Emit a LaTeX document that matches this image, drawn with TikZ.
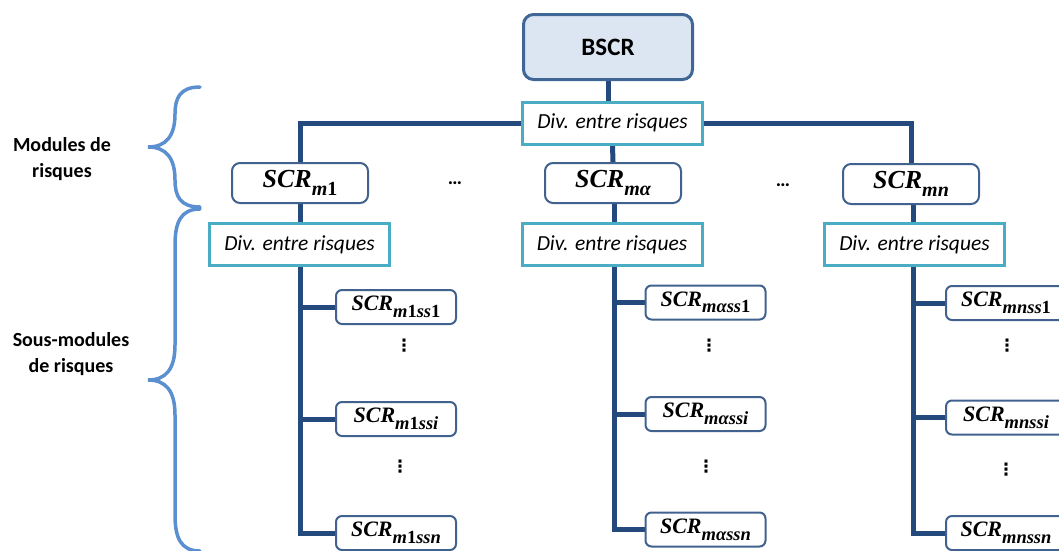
\documentclass[tikz,border=0pt]{standalone}
\usepackage{fontspec}
\setmainfont{Carlito}
\newfontfamily\scrfont{Liberation Serif}
\newfontfamily\dvfont{DejaVu Sans}
\usetikzlibrary{backgrounds}
\definecolor{navy}{HTML}{24497D}
\definecolor{bsfill}{HTML}{DCE6F2}
\definecolor{bsline}{HTML}{3F6695}
\definecolor{teal}{HTML}{4BACC6}
\definecolor{modline}{HTML}{41628F}
\definecolor{brc}{HTML}{5B8FCF}
% module-level and sub-level SCR labels
\newcommand{\scrm}[1]{{\scrfont\bfseries\itshape\fontsize{26}{28}\selectfont SCR\raisebox{-0.3em}{\fontsize{20}{22}\selectfont #1}}}
\newcommand{\scrs}[1]{{\scrfont\bfseries\itshape\fontsize{22}{24}\selectfont SCR\raisebox{-0.3em}{\fontsize{18.5}{20}\selectfont #1}}}
\newcommand{\up}[1]{{\upshape #1}}
\tikzset{
  bscrbox/.style={draw=bsline, line width=3pt, fill=bsfill, rounded corners=10pt,
    minimum width=169pt, minimum height=65pt, inner sep=0pt,
    font=\fontsize{25}{28}\selectfont\bfseries},
  divbox/.style={draw=teal, line width=3pt, fill=white,
    minimum width=180pt, minimum height=42pt, inner sep=0pt,
    font=\fontsize{21.5}{25}\selectfont\itshape},
  modbox/.style={draw=modline, line width=2pt, fill=white, rounded corners=8pt,
    minimum width=136pt, minimum height=40pt, inner sep=0pt},
  subbox/.style={draw=modline, line width=2pt, fill=white, rounded corners=6pt,
    minimum width=120pt, minimum height=34pt, inner sep=0pt},
  conn/.style={draw=navy, line width=5pt},
  brace/.style={draw=brc, line width=3.5pt, line cap=round},
  lbl/.style={align=center, font=\fontsize{20}{26}\selectfont\bfseries},
  hdots/.style={font=\fontsize{20}{24}\selectfont\bfseries},
  vdotsn/.style={inner sep=0pt, font=\dvfont\bfseries\fontsize{17}{18}\selectfont},
}
\begin{document}
\begin{tikzpicture}[x=1pt,y=-1pt]
\useasboundingbox (0,0) rectangle (1059,550);
% nodes
\node[bscrbox] (bscr) at (608,47) {BSCR};
\node[divbox] (div0) at (612.5,123) {Div. entre risques};
\node[modbox] (m1) at (300,183) {\scrm{m\up{1}}};
\node[modbox] (ma) at (613,183) {\scrm{mα}};
\node[modbox] (mn) at (911,184) {\scrm{mn}};
\node[hdots] (d1) at (455,183) {…};
\node[hdots] (d2) at (783,185) {…};
\node[divbox] (div1) at (299.5,244.5) {Div. entre risques};
\node[divbox] (div2) at (612,244.5) {Div. entre risques};
\node[divbox] (div3) at (914.5,244.5) {Div. entre risques};
% sub-modules
\node[subbox] (a1) at (396,307) {\scrs{m\up{1}ss\up{1}}};
\node[subbox] (ai) at (396,419) {\scrs{m\up{1}ssi}};
\node[subbox] (an) at (396,533) {\scrs{m\up{1}ssn}};
\node[subbox] (b1) at (705.5,302.5) {\scrs{mαss\up{1}}};
\node[subbox] (bi) at (705.5,414) {\scrs{mαssi}};
\node[subbox] (bn) at (705.5,529.5) {\scrs{mαssn}};
\node[subbox] (c1) at (1006,303) {\scrs{mnss\up{1}}};
\node[subbox] (ci) at (1006,417.5) {\scrs{mnssi}};
\node[subbox] (cn) at (1006,533) {\scrs{mnssn}};
\node[vdotsn] (va1) at (404,346) {⋮};
\node[vdotsn] (va2) at (400,467) {⋮};
\node[vdotsn] (vb1) at (709,346) {⋮};
\node[vdotsn] (vb2) at (706,467) {⋮};
\node[vdotsn] (vc1) at (1007,346) {⋮};
\node[vdotsn] (vc2) at (1006,470) {⋮};
% labels
\node[lbl] (l1) at (62,159) {Modules de\\risques};
\node[lbl] (l2) at (71,354) {Sous-modules\\de risques};
% trunk tops
\coordinate (ta) at ([xshift=1pt]ma.south);
\coordinate (tn) at ([xshift=2pt]mn.south);
% connectors
\begin{scope}[on background layer]
\draw[conn] (bscr.south) -- (bscr.south |- div0.north);
\draw[conn] (m1.north) |- (div0.west);
\draw[conn] (mn.north) |- (div0.east);
\draw[conn] (div0.south) -- (ma.north);
\draw[conn] (m1.south) |- (an.west);
\draw[conn] (a1.west) -- (a1.west -| m1.south);
\draw[conn] (ai.west) -- (ai.west -| m1.south);
\draw[conn] (ta) |- (bn.west);
\draw[conn] (b1.west) -- (b1.west -| ta);
\draw[conn] (bi.west) -- (bi.west -| ta);
\draw[conn] (tn) |- (cn.west);
\draw[conn] (c1.west) -- (c1.west -| tn);
\draw[conn] (ci.west) -- (ci.west -| tn);
\end{scope}
% braces
\draw[brace] (200,87) .. controls (180,87) and (175,98) .. (175,114)
  .. controls (175,136) and (166,147) .. (148,147)
  .. controls (166,147) and (175,158) .. (175,180)
  .. controls (175,196) and (180,207) .. (200,207);
\draw[brace] (200,209) .. controls (181,209) and (175,222) .. (175,245)
  -- (175,345) .. controls (175,369) and (166,380) .. (148,380)
  .. controls (166,380) and (175,391) .. (175,415)
  -- (175,515) .. controls (175,538) and (181,551) .. (200,551);
\end{tikzpicture}
\end{document}
